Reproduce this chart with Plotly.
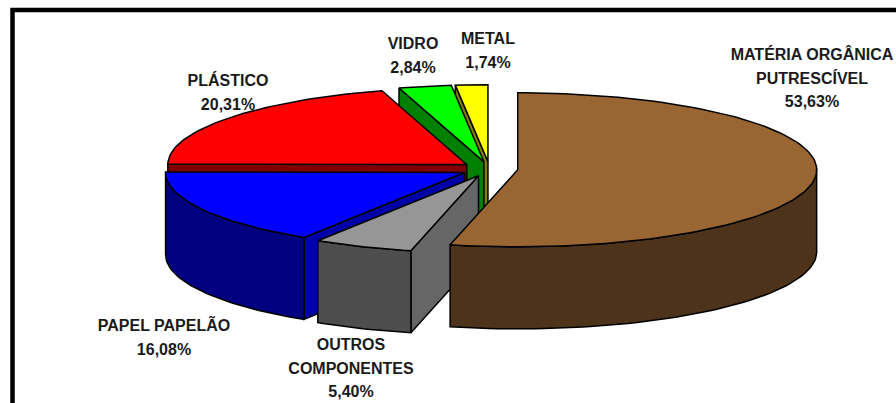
import math
import plotly.graph_objects as go

# Waste composition shares, in percent, clockwise from 12 o'clock
categories = ["MATÉRIA ORGÂNICA PUTRESCÍVEL", "OUTROS COMPONENTES", "PAPEL PAPELÃO",
              "PLÁSTICO", "VIDRO", "METAL"]
shares = [53.63, 5.40, 16.08, 20.31, 2.84, 1.74]

top_colors = ["#996633", "#969696", "#0000FF", "#FF0000", "#00FF00", "#FFFF00"]
arc_colors = ["#4D3319", "#4D4D4D", "#000080", "#800000", "#008000", "#808000"]
cut_colors = ["#4D3319", "#666666", "#0000A8", "#800000", "#008000", "#808000"]

label_lines = [
    ["MATÉRIA ORGÂNICA", "PUTRESCÍVEL"],
    ["OUTROS", "COMPONENTES"],
    ["PAPEL PAPELÃO"],
    ["PLÁSTICO"],
    ["VIDRO"],
    ["METAL"],
]
label_anchor = [(812, 56), (351, 346), (164, 327), (228, 82), (413, 45), (488, 40)]
LINE_PITCH = 23.5

# Projected pie geometry, in page pixels
CX, CY = 489.5, 169.0
RX, RY = 299.0, 77.0
DEPTH = 82.0
EXPLODE = 0.095
STEP_DEG = 1.5

# Back-to-front painting order: indices into the lists above
paint_order = [5, 4, 3, 2, 1, 0]


def percent_text(v):
    return f"{v:.2f}%".replace(".", ",")


def rim(cx, cy, a):
    return cx + RX * math.sin(a), cy - RY * math.cos(a)


def poly_trace(points, fill):
    xs = [p[0] for p in points] + [points[0][0]]
    ys = [p[1] for p in points] + [points[0][1]]
    return go.Scatter(x=xs, y=ys, mode="lines", fill="toself", fillcolor=fill,
                      line=dict(color="#000000", width=1.5), hoverinfo="skip",
                      showlegend=False)


def cut_is_visible(cx, cy, edge, inner):
    # A radial cut shows only if extruding downwards moves away from the slice top
    dx, dy = edge[0] - cx, edge[1] - cy
    down = dx * DEPTH
    side = dx * (inner[1] - cy) - dy * (inner[0] - cx)
    return down * side < 0


# Slice angle spans derived from the shares
total = sum(shares)
spans = []
running = 0.0
for s in shares:
    start = running / total * 2 * math.pi
    running += s
    spans.append((start, running / total * 2 * math.pi))

fig = go.Figure()

# Labels sit beneath the slices, so the pie edge can overlap them
text_x, text_y, text_s = [], [], []
for lines, (ax, ay), v in zip(label_lines, label_anchor, shares):
    for i, line in enumerate(lines + [percent_text(v)]):
        text_x.append(ax)
        text_y.append(ay + i * LINE_PITCH)
        text_s.append(line)
fig.add_trace(go.Scatter(x=text_x, y=text_y, text=text_s, mode="text",
                         textposition="middle center", hoverinfo="skip", showlegend=False,
                         textfont=dict(family="Liberation Sans", size=16, color="#1a1a1a",
                                       weight="bold")))

for idx in paint_order:
    a0, a1 = spans[idx]
    mid = (a0 + a1) / 2
    cx = CX + EXPLODE * RX * math.sin(mid)
    cy = CY - EXPLODE * RY * math.cos(mid)
    n = max(2, int(math.degrees(a1 - a0) / STEP_DEG))
    arc = [rim(cx, cy, a0 + (a1 - a0) * i / n) for i in range(n + 1)]
    inner = rim(cx, cy, mid)

    # Cut faces at the radial edges that face the viewer
    for x, y in (arc[0], arc[-1]):
        if cut_is_visible(cx, cy, (x, y), inner):
            fig.add_trace(poly_trace([(cx, cy), (x, y), (x, y + DEPTH), (cx, cy + DEPTH)],
                                     cut_colors[idx]))
    # Outer wall, only where the rim faces the viewer
    front = [p for p, i in zip(arc, range(n + 1))
             if math.cos(a0 + (a1 - a0) * i / n) <= 0.02]
    if len(front) > 1:
        wall = front + [(x, y + DEPTH) for x, y in reversed(front)]
        fig.add_trace(poly_trace(wall, arc_colors[idx]))
    # Top face
    fig.add_trace(poly_trace([(cx, cy)] + arc, top_colors[idx]))

fig.update_layout(
    width=896, height=403, margin=dict(l=0, r=0, t=0, b=0),
    paper_bgcolor="#FFFFFF", plot_bgcolor="#FFFFFF",
    xaxis=dict(range=[0, 896], visible=False, fixedrange=True),
    yaxis=dict(range=[403, 0], visible=False, fixedrange=True),
    shapes=[dict(type="rect", xref="x", yref="y", x0=12.5, y0=10, x1=930, y1=440,
                 line=dict(color="#000000", width=4.5), fillcolor="rgba(0,0,0,0)", layer="above")],
)
fig.write_html("out.html", config=dict(displayModeBar=False))
